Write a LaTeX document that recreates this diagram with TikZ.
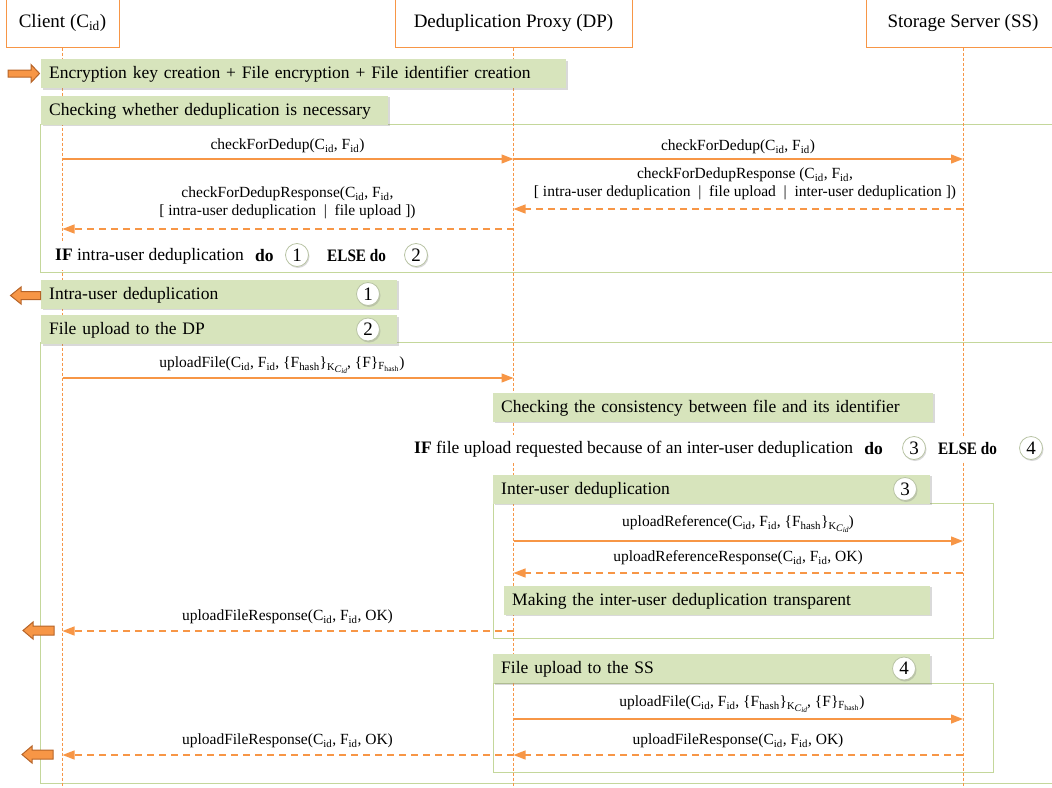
\documentclass[tikz,border=0pt]{standalone}
\usepackage{fontspec}
\usepackage{graphicx}
\setmainfont{Liberation Serif}
\usetikzlibrary{arrows.meta,shadows}
\definecolor{org}{RGB}{247,150,70}
\definecolor{orgdark}{RGB}{182,100,40}
\definecolor{gfill}{RGB}{215,228,188}
\definecolor{gframe}{RGB}{196,215,155}
\definecolor{numline}{RGB}{185,196,165}
\newcommand\sbs[1]{\textsubscript{#1}}
\newcommand\fhdr{\fontsize{19}{22}\selectfont}
\newcommand\fbx{\fontsize{17.5}{20}\selectfont}
\newcommand\flbl{\fontsize{15.5}{18}\selectfont}
\newcommand\fnum{\fontsize{19}{20}\selectfont}
\newcommand\kcid{\raisebox{-3pt}{\fontsize{10.5}{10.5}\selectfont K\raisebox{-1.5pt}{\fontsize{10}{10}\selectfont\itshape C\raisebox{-1pt}{\fontsize{7.5}{7.5}\selectfont id}}}}
\newcommand\elsedo{\scalebox{0.87}[1]{\textbf{ELSE do}}}
\begin{document}
\begin{tikzpicture}[x=1pt,y=-1pt,
 hdr/.style={draw=org,line width=1pt,fill=white,minimum height=48pt,font=\fhdr,inner sep=0pt,drop shadow={shadow xshift=1.2pt,shadow yshift=-1.2pt,opacity=0.15}},
 lifeline/.style={draw=org,line width=0.8pt,dash pattern=on 3pt off 2pt},
 gbox/.style={fill=gfill,minimum height=29pt,inner xsep=8pt,inner ysep=0pt,anchor=west,align=left,font=\fbx,text height=15pt,text depth=4.5pt,drop shadow={shadow xshift=1.5pt,shadow yshift=-1.5pt,opacity=0.3}},
 frame/.style={draw=gframe,line width=1pt},
 msg/.style={draw=org,line width=1.3pt,-{Triangle[length=12pt,width=9pt]}},
 rsp/.style={msg,dash pattern=on 7pt off 5pt},
 lbl/.style={font=\flbl,inner sep=1pt,align=center},
 iftxt/.style={fill=white,font=\fbx,inner xsep=2pt,inner ysep=6pt},
 num/.style={circle,draw=numline,line width=0.8pt,fill=white,minimum size=23pt,inner sep=0pt,font=\fnum,drop shadow={shadow xshift=1pt,shadow yshift=-1.5pt,opacity=0.3}},
 barrow/.style={fill=org,draw=orgdark,line width=1pt,line join=miter}
]
\useasboundingbox (0,0) rectangle (1052,787);
\clip (0,0) rectangle (1052,787);
% frames
\draw[frame] (40,124) rectangle (1060,272);
\draw[frame] (40,342.5) rectangle (1060,783.5);
\draw[frame] (493,503) rectangle (993,638.5);
\draw[frame] (493,683) rectangle (993,772);
% headers
\node[hdr,minimum width=113pt] (client) at (62.5,23) {Client (C\sbs{id})};
\node[hdr,minimum width=237pt] (dp) at (513.5,23) {Deduplication Proxy (DP)};
\node[hdr,minimum width=194pt] (ss) at (963,23) {Storage Server (SS)};
% lifelines
\coordinate (clientE) at (62.5,792);
\coordinate (dpE) at (513.5,792);
\coordinate (ssE) at (963,792);
\draw[lifeline] (client) -- (clientE);
\draw[lifeline] (dp) -- (dpE);
\draw[lifeline] (ss) -- (ssE);
% green boxes
\node[gbox,text width=509pt] (g1) at (41,73.5) {Encryption key creation + File encryption + File identifier creation};
\node[gbox,text width=331pt] (g2) at (41,110) {Checking whether deduplication is necessary};
\node[gbox,text width=340pt] (g3) at (41,294) {Intra-user deduplication};
\node[gbox,text width=340pt] (g4) at (41,329.5) {File upload to the DP};
\node[gbox,text width=424pt] (g5) at (493,407) {Checking the consistency between file and its identifier};
\node[gbox,text width=421pt] (g6) at (493,489) {Inter-user deduplication};
\node[gbox,text width=410pt] (g7) at (504,600) {Making the inter-user deduplication transparent};
\node[gbox,text width=421pt] (g8) at (493,668.5) {File upload to the SS};
% messages
\draw[msg] (client |- 0,159) -- (dp |- 0,159);
\node[lbl] (l1) at (287.5,146) {checkForDedup(C\sbs{id}, F\sbs{id})};
\draw[msg] (dp |- 0,159) -- (ss |- 0,159);
\node[lbl] (l2) at (738,147) {checkForDedup(C\sbs{id}, F\sbs{id})};
\draw[rsp] (ss |- 0,209) -- (dp |- 0,209);
\node[lbl] (l3) at (745,184) {checkForDedupResponse (C\sbs{id}, F\sbs{id},\\{}[ intra-user deduplication~~|~~file upload~~|~~inter-user deduplication ])};
\draw[rsp] (dp |- 0,229) -- (client |- 0,229);
\node[lbl] (l4) at (287.5,203) {checkForDedupResponse(C\sbs{id}, F\sbs{id},\\{}[ intra-user deduplication~~|~~file upload ])};
\draw[msg] (client |- 0,378) -- (dp |- 0,378);
\node[lbl] (l5) at (282,365) {uploadFile(C\sbs{id}, F\sbs{id}, \{F\sbs{hash}\}\kcid, \{F\}\textsubscript{F\textsubscript{hash}})};
\draw[msg] (dp |- 0,541) -- (ss |- 0,541);
\node[lbl] (l6) at (738,524) {uploadReference(C\sbs{id}, F\sbs{id}, \{F\sbs{hash}\}\kcid)};
\draw[rsp] (ss |- 0,573) -- (dp |- 0,573);
\node[lbl] (l7) at (738,558) {uploadReferenceResponse(C\sbs{id}, F\sbs{id}, OK)};
\draw[rsp] (dp |- 0,631) -- (client |- 0,631);
\node[lbl] (l8) at (287.5,617) {uploadFileResponse(C\sbs{id}, F\sbs{id}, OK)};
\draw[msg] (dp |- 0,719) -- (ss |- 0,719);
\node[lbl] (l9) at (742,704) {uploadFile(C\sbs{id}, F\sbs{id}, \{F\sbs{hash}\}\kcid, \{F\}\textsubscript{F\textsubscript{hash}})};
\draw[rsp] (ss |- 0,755) -- (dp |- 0,755);
\node[lbl] (l10) at (738,741) {uploadFileResponse(C\sbs{id}, F\sbs{id}, OK)};
\draw[rsp] (dp |- 0,755) -- (client |- 0,755);
\node[lbl] (l11) at (287.5,741) {uploadFileResponse(C\sbs{id}, F\sbs{id}, OK)};
% IF lines
\node[iftxt,anchor=west] (if1) at (53,256) {\textbf{IF} intra-user deduplication};
\node[iftxt,anchor=west] (do1) at (253,256) {\textbf{do}};
\node[num] (n1a) at (297,255) {1};
\node[iftxt,anchor=west] (else1) at (325,256) {\elsedo};
\node[num] (n2a) at (416,255) {2};
\node[iftxt,anchor=west] (if2) at (412,449) {\textbf{IF} file upload requested because of an inter-user deduplication};
\node[iftxt,anchor=east] (do2) at (885,449) {\textbf{do}};
\node[num] (n3a) at (914,448) {3};
\node[iftxt,anchor=west] (else2) at (936,449) {\elsedo};
\node[num] (n4a) at (1031,448) {4};
% numbers in boxes
\node[num] (n1b) at (368,294) {1};
\node[num] (n2b) at (368,329.5) {2};
\node[num] (n3b) at (905,489) {3};
\node[num] (n4b) at (904,668.5) {4};
% block arrows
\draw[barrow] (8,70) -- (31,70) -- (31,64.5) -- (39.5,73.5) -- (31,82.5) -- (31,77) -- (8,77) -- cycle;
\draw[barrow] (40.5,291.5) -- (21,291.5) -- (21,287) -- (10.5,295.5) -- (21,304) -- (21,299.5) -- (40.5,299.5) -- cycle;
\draw[barrow] (54,626) -- (33,626) -- (33,622) -- (23,630.5) -- (33,639) -- (33,635) -- (54,635) -- cycle;
\draw[barrow] (53,750) -- (32,750) -- (32,746) -- (22,754.5) -- (32,763) -- (32,759) -- (53,759) -- cycle;
\end{tikzpicture}
\end{document}
